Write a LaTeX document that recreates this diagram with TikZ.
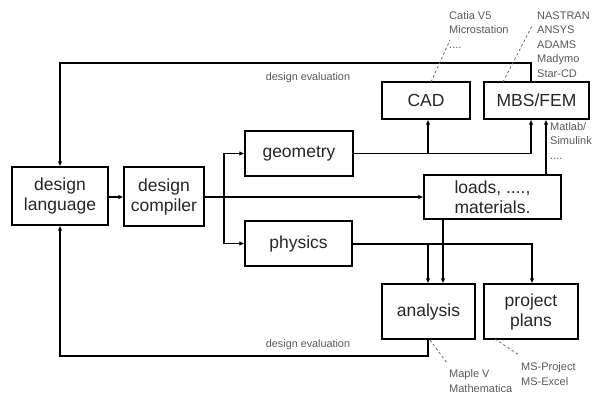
\documentclass[tikz,border=0pt]{standalone}
\usepackage{fontspec}
\setmainfont{Liberation Sans}
\usetikzlibrary{arrows.meta}
\begin{document}
\begin{tikzpicture}[x=1pt,y=-1pt,
  box/.style={draw, line width=1.2pt, inner sep=0pt, align=center,
    font=\fontsize{17.5}{20}\selectfont, text=black!85},
  conn/.style={line width=1.8pt},
  arr/.style={conn, -{Latex[length=5pt,width=4.5pt]}},
  note/.style={anchor=west, align=left, inner sep=0pt, text=black!65,
    font=\fontsize{11}{14.5}\selectfont},
  evl/.style={inner sep=0pt, text=black!65, font=\fontsize{10.8}{13}\selectfont},
  leader/.style={draw=black!60, dashed, line width=0.8pt, dash pattern=on 2.5pt off 2.5pt}]
\useasboundingbox (0,0) rectangle (592,394);

% blocks
\node[box, minimum width=96pt, minimum height=58pt] (lang) at (60,196) {design\\language};
\node[box, minimum width=80pt, minimum height=59pt] (comp) at (164,196.5) {design\\compiler};
\node[box, minimum width=108pt, minimum height=45pt] (geom) at (299,153.5) {geometry};
\node[box, minimum width=107pt, minimum height=45pt] (phys) at (298.5,243.5) {physics};
\node[box, minimum width=137pt, minimum height=44pt] (loads) at (492.5,197) {loads, ....,\\materials.};
\node[box, minimum width=88pt, minimum height=37pt] (cad) at (426,100.5) {CAD};
\node[box, minimum width=105pt, minimum height=37pt] (mbs) at (536.5,100.5) {MBS/FEM};
\node[box, minimum width=93pt, minimum height=55pt] (ana) at (428.5,311.5) {analysis};
\node[box, minimum width=94pt, minimum height=55pt] (plan) at (531,311.5) {project\\plans};

% junction points
\coordinate (split) at (224,197);
\coordinate (gj) at (428,153);
\coordinate (pj) at (428,244);
\coordinate (topR) at (531,63);
\coordinate (topL) at (60,63);
\coordinate (botR) at (428,356);
\coordinate (botL) at (60,356);

% main flow
\draw[arr] (lang.east |- 0,197) -- (comp.west |- 0,197);
\draw[arr] (comp.east |- 0,197) -- (loads.west |- 0,197);
\draw[arr] (split) |- (geom.west);
\draw[arr] (split) |- (phys.west);

% geometry to CAD and MBS/FEM
\draw[arr] (geom.east) -| (mbs.south -| 531,0);
\draw[arr] (gj) -- (cad.south -| gj);

% loads to MBS/FEM and analysis
\draw[arr] (loads.north -| 546,0) -- (mbs.south -| 546,0);
\draw[arr] (loads.south -| 443,0) -- (ana.north -| 443,0);

% physics to analysis and project plans
\draw[arr] (phys.east |- pj) -| (plan.north -| 532,0);
\draw[arr] (pj) -- (ana.north -| pj);

% feedback loops
\draw[arr] (mbs.north -| topR) -- (topR) -- (topL) -- (lang.north);
\draw[arr] (ana.south -| botR) -- (botR) -- (botL) -- (lang.south);
\node[evl] (evtop) at (308,78) {design evaluation};
\node[evl] (evbot) at (308,345) {design evaluation};

% tool notes
\node[note] (ncad) at (449,30) {Catia V5\\Microstation\\....};
\node[note] (nmbs) at (537,44.5) {NASTRAN\\ANSYS\\ADAMS\\Madymo\\Star-CD};
\node[note] (nmat) at (550,141) {Matlab/\\Simulink\\....};
\node[note] (nana) at (449,381) {Maple V\\Mathematica};
\node[note] (npla) at (521,374) {MS-Project\\MS-Excel};

\draw[leader] (431,82) -- (450,40);
\draw[leader] (503,82) -- (533,24);
\draw[leader] (430,340) -- (447,363);
\draw[leader] (495,339) -- (519,355);
\end{tikzpicture}
\end{document}
